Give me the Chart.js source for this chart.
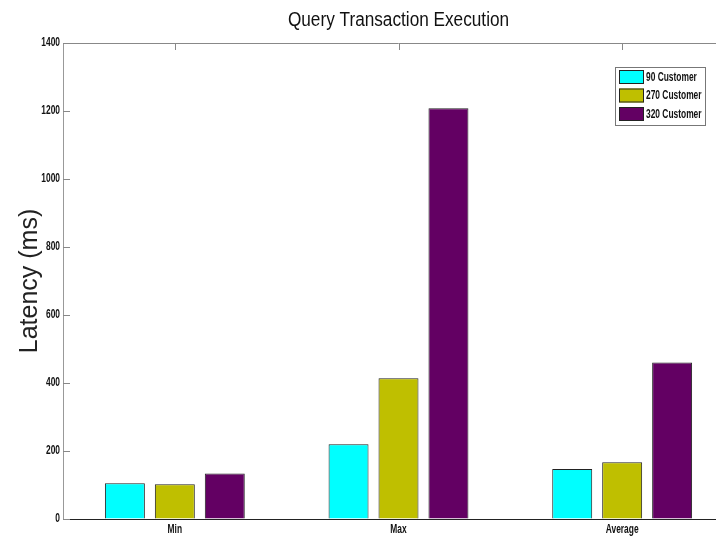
<!DOCTYPE html>
<html>
<head>
<meta charset="utf-8">
<title>Query Transaction Execution</title>
<script src="https://cdn.jsdelivr.net/npm/chart.js@4.4.0/dist/chart.umd.min.js"></script>
<style>
    html, body { margin: 0; padding: 0; background: #fff; overflow: hidden; }
    #wrap { width: 760px; height: 538px; }
</style>
</head>
<body>
<div id="wrap"><canvas id="myChart" width="760" height="538"></canvas></div>
<script>
const categories = ['Min', 'Max', 'Average'];
const seriesNames = ['90 Customer', '270 Customer', '320 Customer'];
const customer90 = [105, 220, 147];
const customer270 = [102, 414, 167];
const customer320 = [134, 1208, 460];
const yTicks = [0, 200, 400, 600, 800, 1000, 1200, 1400];
const barColors = ['#00ffff', '#bfbf00', '#630063'];
const chartTitle = 'Query Transaction Execution';

const sans = '"Liberation Sans", Arial, sans-serif';

// the reference uses a narrow font, so squeeze the text horizontally
function narrowText(ctx, text, x, y, font, sx, align) {
    ctx.save();
    ctx.translate(x, y);
    ctx.scale(sx, 1);
    ctx.font = font;
    ctx.textAlign = align;
    ctx.textBaseline = 'middle';
    ctx.fillText(text, 0, 0);
    ctx.restore();
}

// matlab style box: title, tick labels, top line, inward ticks, legend inside the axes
const framePlugin = {
    id: 'frame',
    afterDraw(chart) {
        const ctx = chart.ctx;
        const area = chart.chartArea;
        const x = chart.scales.x;
        const y = chart.scales.y;
        ctx.save();
        ctx.strokeStyle = '#888';
        ctx.lineWidth = 1;
        ctx.beginPath();
        ctx.moveTo(area.left, area.top + 0.5);
        ctx.lineTo(area.right, area.top + 0.5);
        y.ticks.forEach(function(t) {
            const py = Math.round(y.getPixelForValue(t.value)) + 0.5;
            ctx.moveTo(area.left, py);
            ctx.lineTo(area.left + 7, py);
        });
        categories.forEach(function(c, i) {
            const px = Math.round(x.getPixelForValue(i)) + 0.5;
            ctx.moveTo(px, area.top);
            ctx.lineTo(px, area.top + 7);
        });
        ctx.stroke();

        ctx.fillStyle = '#111';
        narrowText(ctx, chartTitle, (area.left + area.right) / 2, 20, '20px ' + sans, 0.86, 'center');
        y.ticks.forEach(function(t) {
            narrowText(ctx, String(t.value), area.left - 3, y.getPixelForValue(t.value), 'bold 12px ' + sans, 0.7, 'right');
        });
        categories.forEach(function(c, i) {
            narrowText(ctx, c, x.getPixelForValue(i), area.bottom + 11, 'bold 12px ' + sans, 0.7, 'center');
        });

        // legend
        const boxRight = area.right - 28;
        const boxLeft = boxRight - 91;
        const boxTop = area.top + 24;
        ctx.fillStyle = '#fff';
        ctx.fillRect(boxLeft, boxTop, 91, 59);
        ctx.strokeStyle = '#777';
        ctx.strokeRect(boxLeft + 0.5, boxTop + 0.5, 90, 58);
        chart.data.datasets.forEach(function(ds, i) {
            const sy = boxTop + 3 + i * 18.5;
            ctx.fillStyle = ds.backgroundColor;
            ctx.fillRect(boxLeft + 4, sy, 25, 14);
            ctx.strokeStyle = '#222';
            ctx.strokeRect(boxLeft + 4.5, sy + 0.5, 24, 13);
            ctx.fillStyle = '#111';
            narrowText(ctx, ds.label, boxLeft + 31, sy + 7.5, 'bold 12px ' + sans, 0.7, 'left');
        });
        ctx.restore();
    }
};

const datasets = [customer90, customer270, customer320].map(function(values, i) {
    return {
        label: seriesNames[i],
        data: values,
        backgroundColor: barColors[i],
        borderColor: '#222',
        borderWidth: 1,
        categoryPercentage: 0.67,
        barPercentage: 0.8
    };
});

new Chart(document.getElementById('myChart'), {
    type: 'bar',
    data: { labels: categories, datasets: datasets },
    options: {
        responsive: false,
        animation: false,
        layout: { padding: { left: 0, right: 26, top: 43, bottom: 0 } },
        plugins: {
            legend: { display: false },
            tooltip: { enabled: false },
            title: { display: false }
        },
        scales: {
            x: {
                grid: { display: true, drawOnChartArea: false, drawTicks: false },
                border: { color: '#222', width: 1 },
                ticks: { display: false },
                afterFit: function(s) { s.height = 19; }
            },
            y: {
                min: 0,
                max: 1400,
                afterBuildTicks: function(s) { s.ticks = yTicks.map(v => ({ value: v })); },
                grid: { display: true, drawOnChartArea: false, drawTicks: false },
                border: { color: '#999', width: 1 },
                ticks: { display: false },
                title: {
                    display: true,
                    text: 'Latency (ms)',
                    color: '#222',
                    font: { family: sans, size: 25, weight: 'normal' },
                    padding: { top: 15, bottom: 0 }
                },
                afterFit: function(s) { s.width = 63; }
            }
        }
    },
    plugins: [framePlugin]
});
</script>
</body>
</html>
